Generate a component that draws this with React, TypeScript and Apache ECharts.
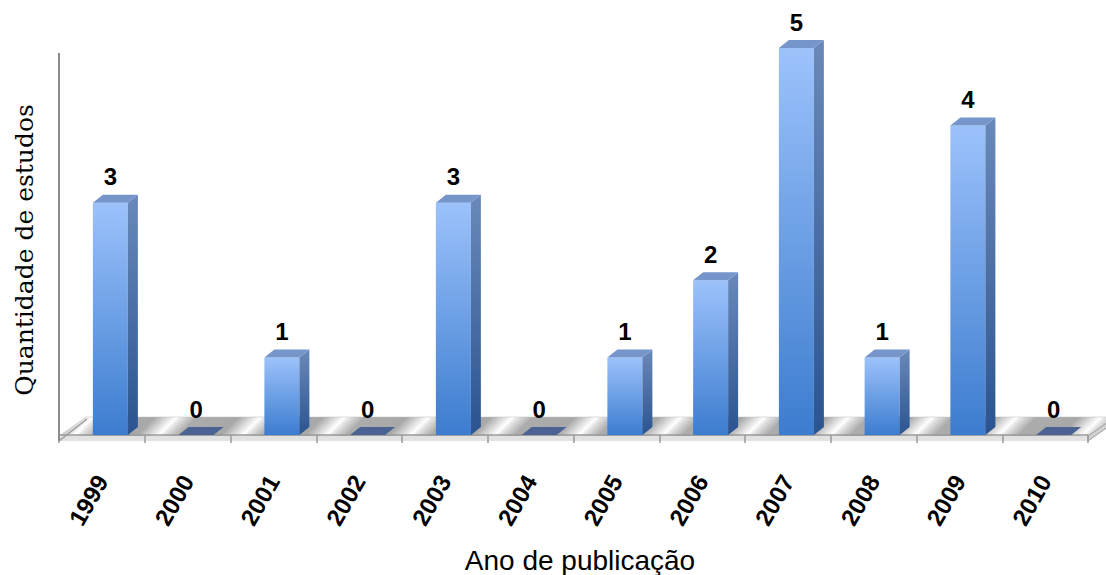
import React, { useEffect, useRef } from "react";
import * as echarts from "echarts";

// Publication years and number of studies per year
const years = ["1999", "2000", "2001", "2002", "2003", "2004", "2005", "2006", "2007", "2008", "2009", "2010"];
const studies = [3, 0, 1, 0, 3, 0, 1, 2, 5, 1, 4, 0];

const yMax = 5;

// Centres of the light streaks on the floor texture (px along the floor)
const floorStreaks = [80, 164, 248, 332, 416, 500, 584, 668, 752, 836, 920, 1004, 1088];

const SANS = '"Liberation Sans", Arial, sans-serif';

function floorGradient() {
  const span = 1200;
  const stops: { offset: number; color: string }[] = [{ offset: 0, color: "#ababab" }];
  floorStreaks.forEach((c) => {
    stops.push({ offset: (c - 22) / span, color: "#a8a8a8" });
    stops.push({ offset: (c - 6) / span, color: "#e8e8e8" });
    stops.push({ offset: c / span, color: "#ffffff" });
    stops.push({ offset: (c + 5) / span, color: "#e4e4e4" });
    stops.push({ offset: (c + 20) / span, color: "#acacac" });
  });
  stops.push({ offset: 1, color: "#b0b0b0" });
  return new echarts.graphic.LinearGradient(0, 430, 600, 1030, stops, true);
}

export default function App() {
  const ref = useRef<HTMLDivElement>(null);

  useEffect(() => {
    document.body.style.margin = "0";
    if (!ref.current) return;
    const chart = echarts.init(ref.current, undefined, { renderer: "svg" });

    const frontFill = new echarts.graphic.LinearGradient(0, 0, 0, 1, [
      { offset: 0, color: "#9cc2fb" },
      { offset: 1, color: "#3c7ccf" },
    ]);
    const sideFill = new echarts.graphic.LinearGradient(0, 0, 0, 1, [
      { offset: 0, color: "#6a89ba" },
      { offset: 1, color: "#2a5490" },
    ]);

    const option: any = {
      animation: false,
      backgroundColor: "#ffffff",
      grid: { left: 59, right: 18, top: 48, bottom: 140 },
      xAxis: {
        type: "category",
        data: years,
        offset: 6,
        axisLine: { show: true, lineStyle: { color: "#9a9a9a", width: 1.5 } },
        axisTick: { show: true, length: 8, lineStyle: { color: "#9a9a9a", width: 1.5 } },
        axisLabel: {
          rotate: 60,
          margin: 36,
          fontSize: 24,
          fontWeight: "bold",
          fontFamily: SANS,
          color: "#000",
        },
        splitLine: { show: false },
      },
      yAxis: {
        type: "value",
        min: 0,
        max: yMax,
        show: false,
      },
      graphic: [
        // floor top surface
        {
          type: "polygon",
          z: 0,
          shape: { points: [[59, 436], [86, 417], [1115, 417], [1088, 436]] },
          style: { fill: floorGradient(), stroke: "#bdbdbd", lineWidth: 0.5 },
        },
        // floor front edge
        {
          type: "rect",
          z: 0,
          shape: { x: 59, y: 436, width: 1029, height: 5 },
          style: { fill: "#e2e2e2" },
        },
        // floor right side
        {
          type: "polygon",
          z: 0,
          shape: { points: [[1088, 436], [1115, 417], [1115, 422], [1088, 441]] },
          style: { fill: "#d0d0d0", stroke: "#a0a0a0", lineWidth: 1 },
        },
        // value axis wall edge
        {
          type: "line",
          z: 1,
          shape: { x1: 59, y1: 53, x2: 59, y2: 441 },
          style: { stroke: "#8c8c8c", lineWidth: 2 },
        },
        {
          type: "line",
          z: 1,
          shape: { x1: 59, y1: 441, x2: 87, y2: 419 },
          style: { stroke: "#9a9a9a", lineWidth: 1.5 },
        },
        // axis titles
        {
          type: "text",
          z: 2,
          x: 24,
          y: 250,
          rotation: Math.PI / 2,
          style: {
            text: "Quantidade de estudos",
            align: "center",
            verticalAlign: "middle",
            font: '25px "DejaVu Serif", serif',
            fill: "#000",
          },
        },
        {
          type: "text",
          z: 2,
          x: 580,
          y: 560,
          style: {
            text: "Ano de publicação",
            align: "center",
            verticalAlign: "middle",
            font: "28px " + SANS,
            fill: "#000",
          },
        },
      ],
      series: [
        {
          type: "custom",
          z: 5,
          data: studies.map((v, i) => [i, v]),
          encode: { x: 0, y: 1 },
          renderItem: (params: any, api: any) => {
            const idx = api.value(0);
            const v = api.value(1);
            const top = api.coord([idx, v]);
            const base = api.coord([idx, 0]);
            const w = 35;
            const dx = 10;
            const dy = 8;
            const xl = top[0] - 9;
            const xr = xl + w;
            const yT = top[1];
            const yB = base[1];
            const children: any[] = [];
            if (v > 0) {
              children.push({
                type: "rect",
                shape: { x: xl, y: yT, width: w, height: yB - yT },
                style: { fill: frontFill },
              });
              children.push({
                type: "polygon",
                shape: { points: [[xr, yT], [xr + dx, yT - dy], [xr + dx, yB - dy], [xr, yB]] },
                style: { fill: sideFill },
              });
            }
            children.push({
              type: "polygon",
              shape: { points: [[xl, yT], [xl + dx, yT - dy], [xr + dx, yT - dy], [xr, yT]] },
              style: { fill: v > 0 ? "#7595cb" : "#4a6392" },
            });
            children.push({
              type: "text",
              style: {
                text: String(v),
                x: xl + w / 2,
                y: yT - 26,
                align: "center",
                verticalAlign: "middle",
                font: "bold 24px " + SANS,
                fill: "#000",
              },
            });
            return { type: "group", children };
          },
        },
      ],
    };

    chart.setOption(option);
    return () => chart.dispose();
  }, []);

  return <div ref={ref} style={{ width: 1106, height: 575 }} />;
}
